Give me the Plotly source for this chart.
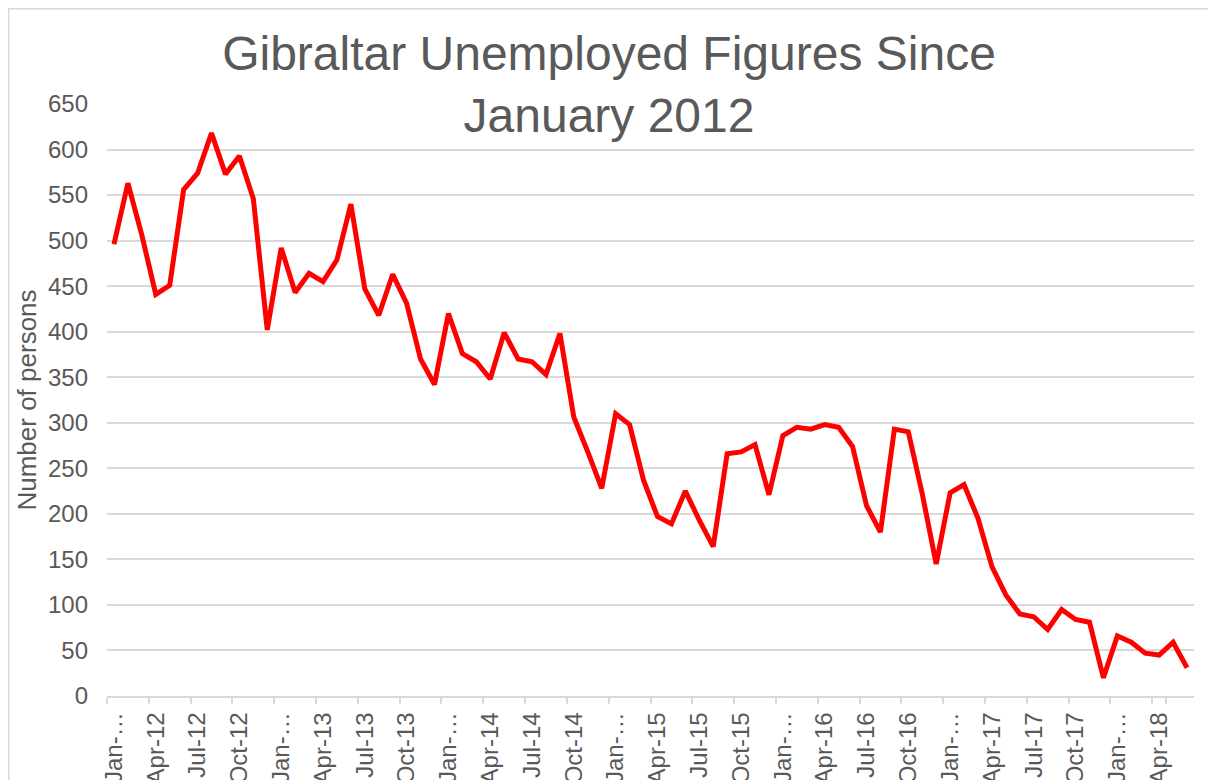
import plotly.graph_objects as go

months = ["Jan", "Feb", "Mar", "Apr", "May", "Jun", "Jul", "Aug", "Sep", "Oct", "Nov", "Dec"]
years = ["12", "13", "14", "15", "16", "17", "18"]
categories = [f"{m}-{y}" for y in years for m in months][:78]

unemployed = [
    496, 563, 506, 441, 451, 556, 574, 618, 573, 593, 546, 402,
    492, 443, 464, 455, 479, 540, 447, 418, 463, 431, 370, 342,
    420, 376, 367, 348, 399, 370, 367, 353, 398, 306, 268, 228,
    310, 298, 237, 197, 189, 225, 193, 164, 266, 268, 276, 221,
    286, 295, 293, 298, 295, 274, 209, 180, 293, 290, 222, 145,
    223, 232, 195, 142, 111, 90, 87, 73, 95, 84, 81, 20,
    66, 59, 47, 45, 59, 31,
]

tick_vals = categories[::3]
tick_text = ["Jan-…" if c.startswith("Jan") else c for c in tick_vals]
y_ticks = list(range(0, 651, 50))

# page has an 8px body margin; figure coords = page coords - 8
W, H = 1203, 772
L, R, T, B = 99, 17, 96, 84
pw, ph = W - L - R, H - T - B

font_family = "Arial, Liberation Sans, sans-serif"
grey = "#595959"
grid = "#d9d9d9"

fig = go.Figure()
fig.add_trace(go.Scatter(
    x=categories, y=unemployed, mode="lines",
    line=dict(color="#ff0000", width=5),
    showlegend=False,
))

fig.update_layout(
    width=W, height=H,
    margin=dict(l=L, r=R, t=T, b=B),
    paper_bgcolor="white", plot_bgcolor="white",
    font=dict(family=font_family, color=grey),
    title=dict(
        text="Gibraltar Unemployed Figures Since<br>January 2012",
        x=601 / W, xanchor="center",
        y=1 - 62 / H, yanchor="middle", yref="container",
        font=dict(size=48, color=grey, family=font_family),
    ),
    xaxis=dict(
        type="category",
        categoryorder="array", categoryarray=categories,
        range=[-0.5, len(categories) - 0.5],
        tickmode="array", tickvals=tick_vals, ticktext=tick_text,
        tickangle=-90,
        tickson="boundaries",
        ticks="outside", ticklen=6, tickcolor=grid, tickwidth=1.5,
        ticklabelstandoff=5,
        showgrid=False,
        showline=True, linecolor=grid, linewidth=1.5,
        tickfont=dict(size=24, color=grey),
        automargin=False,
    ),
    yaxis=dict(
        range=[0, 650],
        tickmode="array", tickvals=y_ticks,
        showgrid=True, gridcolor=grid, gridwidth=1.5,
        zeroline=False, showline=False,
        ticks="", ticklabelstandoff=18,
        tickfont=dict(size=24, color=grey),
        title=dict(text="Number of persons", font=dict(size=26, color=grey), standoff=3),
        automargin=False,
    ),
    shapes=[dict(
        type="rect", xref="paper", yref="paper",
        x0=(0.75 - L) / pw, x1=(W - 0.75 - L) / pw,
        y0=(H - B - 1000) / ph, y1=(H - B - 0.75) / ph,
        line=dict(color=grid, width=1.5), fillcolor="rgba(0,0,0,0)",
        layer="below",
    )],
)

fig.write_html("out.html")
